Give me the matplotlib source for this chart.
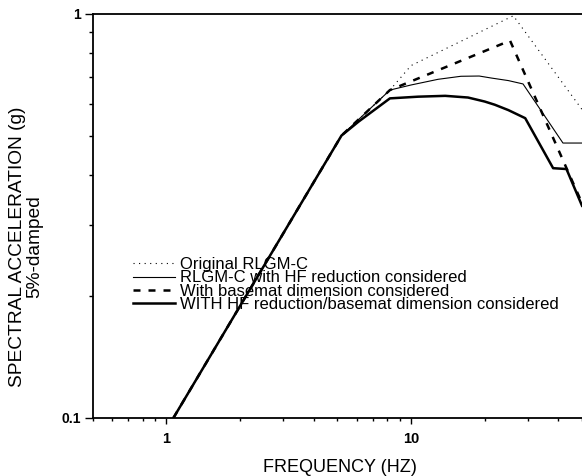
"""
Spectral acceleration (5%-damped) vs frequency, log-log, four design spectra.
Produces out.png
"""

import matplotlib
matplotlib.use("Agg")
import matplotlib.pyplot as plt
from matplotlib.ticker import FixedLocator, FuncFormatter, LogLocator, NullFormatter

plt.rcParams["font.family"] = ["Liberation Sans", "DejaVu Sans"]

# values (Hz, g)
orig_f = [1.07, 5.2, 8.2, 10.0, 26.2, 50.0]
orig_a = [0.1, 0.5, 0.648, 0.745, 0.99, 0.58]

hf_f = [1.07, 5.2, 8.2, 10.0, 12.9, 16.0, 19.0, 21.3, 25.0, 28.7, 41.8, 50.0]
hf_a = [0.1, 0.5, 0.648, 0.667, 0.689, 0.701, 0.702, 0.694, 0.684, 0.671, 0.479, 0.479]

basemat_f = [1.07, 5.2, 8.2, 25.4, 50.0]
basemat_a = [0.1, 0.5, 0.648, 0.859, 0.34]

both_f = [1.07, 5.2, 6.1, 8.2, 10.7, 13.8, 17.1, 20.0, 22.0, 25.0, 29.3, 38.1, 43.2, 50.0]
both_a = [0.1, 0.5, 0.541, 0.618, 0.624, 0.627, 0.621, 0.607, 0.596, 0.578, 0.552, 0.415, 0.413, 0.335]

labels = ["Original RLGM-C",
          "RLGM-C with HF reduction considered",
          "With basemat dimension considered",
          "WITH HF reduction/basemat dimension considered"]

x_major = [1, 10]
y_major = [0.1, 1]


def main():
    fig = plt.figure(figsize=(5.82, 4.76), dpi=100)
    ax = fig.add_axes([0.1593, 0.1225, 0.8407, 0.8481])

    ax.plot(orig_f, orig_a, color="black", lw=0.8, ls=(0, (1, 4)), label=labels[0])
    ax.plot(hf_f, hf_a, color="black", lw=0.8, label=labels[1])
    ax.plot(basemat_f, basemat_a, color="black", lw=1.8, ls=(0, (2.8, 3.2)), label=labels[2])
    ax.plot(both_f, both_a, color="black", lw=1.8, label=labels[3])

    ax.set_xscale("log"); ax.set_yscale("log")
    ax.set_xlim(0.5, 50); ax.set_ylim(0.1, 1)

    ax.xaxis.set_major_locator(FixedLocator(x_major))
    ax.yaxis.set_major_locator(FixedLocator(y_major))
    ax.xaxis.set_minor_locator(LogLocator(base=10, subs=range(2, 10)))
    ax.yaxis.set_minor_locator(LogLocator(base=10, subs=range(2, 10)))
    fmt = FuncFormatter(lambda v, _: f"{v:g}")
    ax.xaxis.set_major_formatter(fmt); ax.yaxis.set_major_formatter(fmt)
    ax.xaxis.set_minor_formatter(NullFormatter()); ax.yaxis.set_minor_formatter(NullFormatter())

    ax.tick_params(axis="x", which="major", direction="out", length=4.5, width=1.0,
                   pad=6, labelsize=10.5)
    ax.tick_params(axis="x", which="minor", direction="out", length=2.5, width=1.0)
    ax.tick_params(axis="y", which="major", direction="out", length=6, width=1.0,
                   pad=2.5, labelsize=10)
    ax.tick_params(axis="y", which="minor", direction="out", length=3, width=1.0)
    for lab in ax.get_xticklabels() + ax.get_yticklabels():
        lab.set_fontweight("bold")

    ax.spines["right"].set_visible(False)
    for s in ("left", "top", "bottom"):
        ax.spines[s].set_linewidth(1.3)

    ax.legend(loc="upper left", bbox_to_anchor=(133 / 582, 1 - 257 / 476),
              bbox_transform=fig.transFigure, frameon=False, fontsize=12,
              borderpad=0, borderaxespad=0, labelspacing=-0.1,
              handlelength=2.5, handletextpad=0.3)

    fig.text(340 / 582, 1 - 467 / 476, "FREQUENCY (HZ)", ha="center", va="center",
             fontsize=13)
    fig.text(26 / 582, 1 - 247 / 476, "SPECTRAL ACCELERATION (g)\n5%-damped",
             ha="center", va="center", rotation=90, fontsize=13.8,
             multialignment="center", linespacing=1.0)

    fig.savefig("out.png", dpi=100)


if __name__ == "__main__":
    main()
